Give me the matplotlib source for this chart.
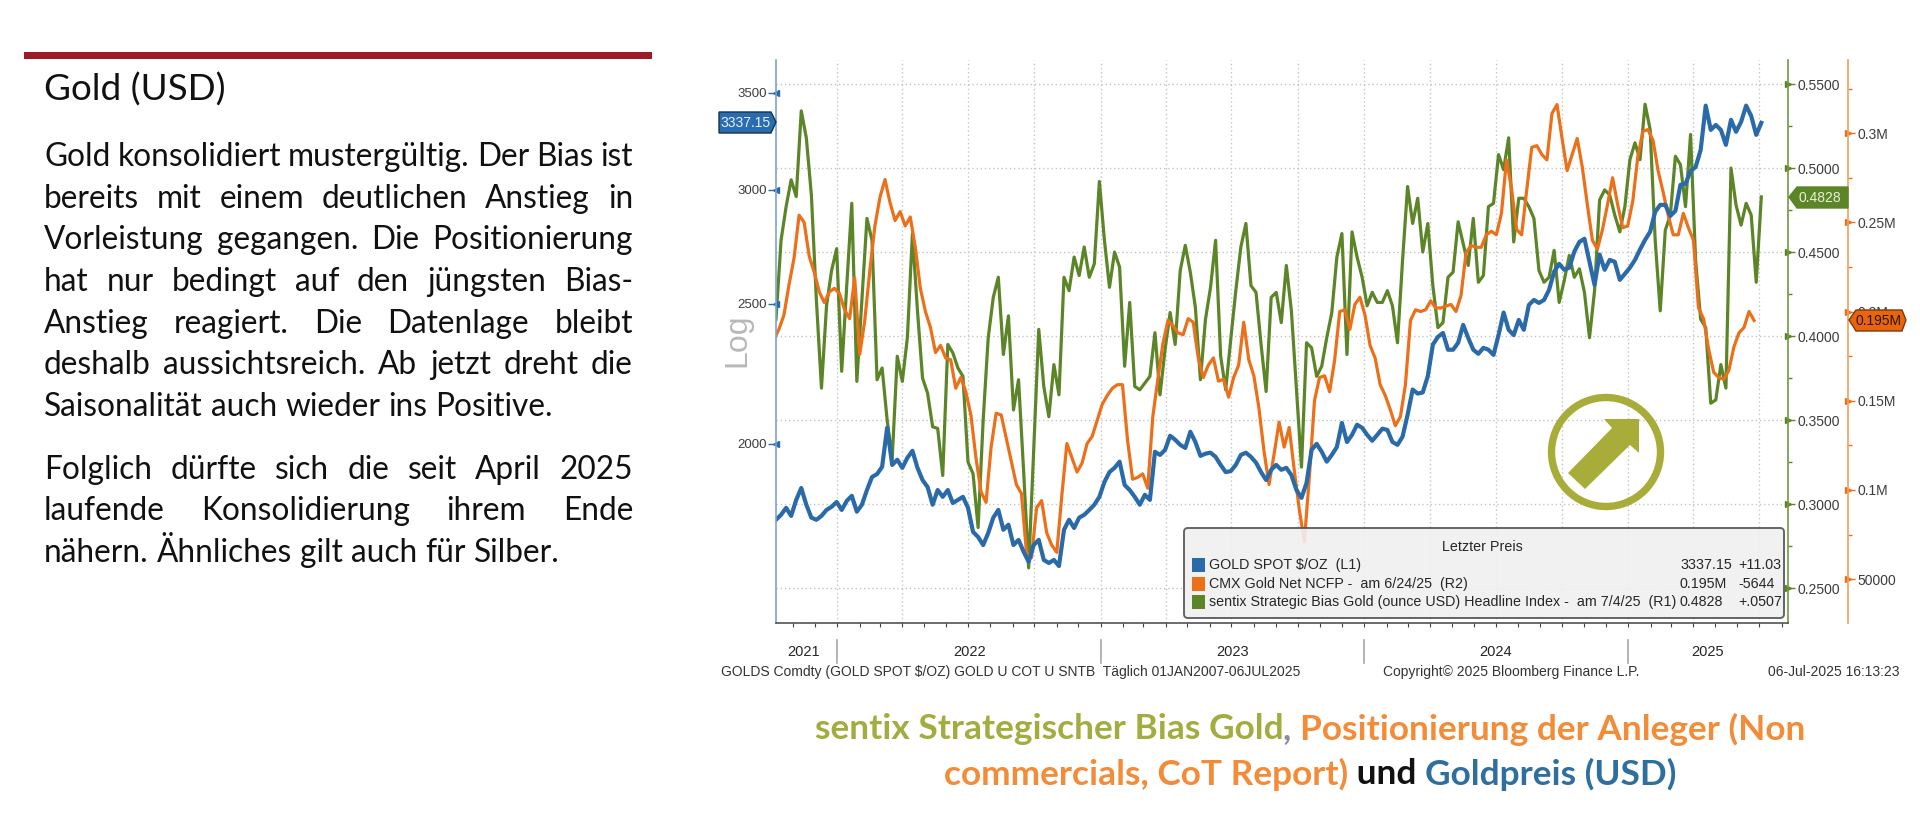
import matplotlib
matplotlib.use('Agg')
import matplotlib.pyplot as plt
import matplotlib.dates as mdates
import pandas as pd
from matplotlib.patches import Circle, FancyBboxPatch, Polygon, Rectangle
from matplotlib.ticker import FixedLocator, FuncFormatter
from matplotlib.transforms import blended_transform_factory

# gold spot, USD/oz, weekly readings
gold = [1772, 1786, 1806, 1783, 1829, 1864, 1815, 1778, 1772, 1783, 1800, 1809, 1823, 1800, 1826, 1841, 1795, 1815, 1858, 1897,
        1906, 1928, 2052, 1934, 1950, 1925, 1956, 1978, 1925, 1888, 1867, 1815, 1858, 1838, 1858, 1820, 1829, 1838, 1806, 1738,
        1724, 1702, 1735, 1778, 1800, 1744, 1758, 1702, 1716, 1684, 1657, 1702, 1716, 1662, 1654, 1662, 1646, 1744, 1772, 1749,
        1778, 1786, 1800, 1815, 1838, 1882, 1912, 1925, 1944, 1873, 1858, 1838, 1815, 1844, 1829, 1975, 1965, 1981, 2026, 2013,
        1997, 1987, 2039, 2006, 1962, 1969, 1972, 1959, 1934, 1912, 1915, 1934, 1965, 1972, 1959, 1941, 1912, 1888, 1919, 1934,
        1919, 1925, 1903, 1858, 1835, 1879, 1981, 2000, 1975, 1944, 1965, 1990, 2068, 2006, 2029, 2062, 2052, 2029, 2010, 2029,
        2049, 2045, 2006, 1997, 2023, 2095, 2181, 2167, 2171, 2228, 2343, 2372, 2387, 2324, 2324, 2350, 2418, 2368, 2324, 2309,
        2331, 2324, 2305, 2379, 2466, 2399, 2379, 2437, 2399, 2496, 2516, 2504, 2516, 2557, 2632, 2665, 2640, 2649, 2718, 2760,
        2774, 2674, 2577, 2705, 2640, 2682, 2674, 2598, 2623, 2649, 2682, 2727, 2769, 2805, 2896, 2928, 2928, 2877, 2900, 3023,
        3028, 3090, 3110, 3196, 3430, 3300, 3326, 3300, 3222, 3353, 3290, 3342, 3430, 3374, 3274, 3337.15]

# CMX gold net non-commercial positions, thousands of contracts
ncfp = [184, 190, 198, 215, 230, 254, 250, 231, 222, 211, 205, 211, 213, 210, 201, 196, 219, 176, 195, 223,
        248, 264, 274, 261, 251, 256, 248, 253, 236, 213, 200, 191, 177, 181, 174, 173, 157, 163, 155, 142,
        118, 99, 93, 124, 143, 142, 129, 116, 103, 98, 65, 62, 90, 94, 76, 69, 65, 97, 126, 118,
        110, 115, 126, 130, 139, 148, 153, 157, 159, 159, 128, 106, 107, 109, 101, 141, 162, 182, 195, 192,
        188, 187, 196, 194, 174, 163, 170, 174, 161, 162, 152, 163, 170, 194, 173, 164, 146, 122, 103, 120,
        138, 124, 135, 111, 89, 71, 108, 150, 163, 164, 155, 173, 200, 201, 190, 204, 208, 198, 181, 174,
        159, 153, 145, 136, 141, 159, 195, 201, 200, 201, 206, 202, 202, 203, 204, 200, 209, 233, 237, 236,
        236, 243, 245, 243, 255, 285, 269, 246, 243, 268, 292, 293, 288, 285, 311, 316, 297, 279, 288, 297,
        281, 260, 240, 235, 246, 260, 275, 260, 247, 248, 262, 287, 301, 302, 296, 279, 267, 254, 243, 243,
        255, 247, 240, 202, 196, 179, 166, 163, 162, 167, 180, 188, 191, 200, 195]

# sentix strategic bias gold, headline index
bias = [.410, .457, .477, .493, .483, .534, .518, .484, .421, .369, .418, .439, .452, .379, .430, .479, .373, .421, .470, .457,
        .374, .381, .350, .327, .388, .373, .399, .461, .415, .375, .366, .346, .345, .317, .395, .390, .381, .376, .325, .318,
        .286, .350, .399, .423, .435, .389, .412, .356, .374, .320, .262, .332, .404, .370, .352, .383, .365, .435, .427, .447,
        .436, .453, .435, .443, .492, .457, .429, .450, .441, .382, .420, .370, .368, .372, .376, .402, .365, .392, .414, .395,
        .439, .454, .438, .417, .374, .410, .429, .457, .388, .368, .398, .427, .453, .467, .430, .426, .395, .367, .423, .426,
        .408, .442, .415, .368, .322, .396, .393, .376, .382, .399, .414, .447, .461, .389, .462, .447, .435, .418, .426, .420,
        .420, .427, .418, .396, .445, .489, .467, .482, .450, .467, .430, .405, .408, .435, .438, .468, .455, .442, .470, .432,
        .436, .477, .479, .508, .499, .518, .456, .482, .482, .477, .470, .439, .432, .435, .451, .420, .433, .448, .435, .440,
        .426, .399, .427, .481, .487, .484, .472, .462, .477, .505, .515, .505, .538, .523, .457, .415, .463, .472, .507, .502,
        .477, .520, .445, .410, .405, .360, .362, .383, .369, .500, .478, .466, .479, .472, .432, .4828]

gold_ticks = [2000, 2500, 3000, 3500]
bias_ticks = [.25, .30, .35, .40, .45, .50, .55]
ncfp_ticks = [50, 100, 150, 200, 250, 300]
ncfp_labels = ['50000', '0.1M', '0.15M', '0.2M', '0.25M', '0.3M']
years = [(2021.87, '2021'), (2022.5, '2022'), (2023.5, '2023'), (2024.5, '2024'), (2025.3, '2025')]

title = 'Gold (USD)'
body = [
    ('Gold konsolidiert mustergültig. Der Bias ist', 157, True),
    ('bereits mit einem deutlichen Anstieg in', 199, True),
    ('Vorleistung gegangen. Die Positionierung', 240, True),
    ('hat nur bedingt auf den jüngsten Bias-', 282, True),
    ('Anstieg reagiert. Die Datenlage bleibt', 324, True),
    ('deshalb aussichtsreich. Ab jetzt dreht die', 365, True),
    ('Saisonalität auch wieder ins Positive.', 407, False),
    ('Folglich dürfte sich die seit April 2025', 470, True),
    ('laufende Konsolidierung ihrem Ende', 511, True),
    ('nähern. Ähnliches gilt auch für Silber.', 553, False),
]

OLIVE = '#a3ad3f'
GREEN = '#5b8527'
ORANGE = '#ec6f1a'
BLUE = '#2a6aa8'
NARROW = ['Liberation Sans', 'DejaVu Sans']
TICK_TXT = '#3c3c3c'

W, H = 1920, 817
fig = plt.figure(figsize=(W / 100, H / 100), dpi=100, facecolor='white')
L, R, T, B = 776, 1788, 60, 623
ax = fig.add_axes([L / W, (H - B) / H, (R - L) / W, (B - T) / H])
ax_b = ax.twinx()
ax_n = ax.twinx()
ax.set_zorder(3)
ax_n.set_zorder(2)
ax_b.set_zorder(1)
ax.patch.set_visible(False)
ax_n.patch.set_visible(False)

gold_dates = pd.date_range(end='2025-07-04', periods=len(gold), freq='7D')
bias_dates = pd.date_range(end='2025-07-04', periods=len(bias), freq='7D')
ncfp_dates = pd.date_range(end='2025-06-24', periods=len(ncfp), freq='7D')

ax_b.plot(bias_dates, bias, color=GREEN, lw=2.3, solid_joinstyle='round')
ax_n.plot(ncfp_dates, ncfp, color=ORANGE, lw=2.3, solid_joinstyle='round')
ax.plot(gold_dates, gold, color=BLUE, lw=3, solid_joinstyle='round')

ax.set_yscale('log')
ax.set_ylim(1503, 3689)
ax_b.set_ylim(.2292, .5643)
ax_n.set_ylim(25.4, 341)
ax.set_xlim(pd.Timestamp('2021-10-08'), pd.Timestamp('2025-08-10'))

# x axis: monthly ticks, dotted quarter grid
ax.xaxis.set_major_locator(mdates.MonthLocator())
ax.xaxis.set_major_formatter(plt.NullFormatter())
ax.tick_params(axis='x', length=3, width=.8, color='#444444')
GRID = dict(color='#c4c4c4', ls=(0, (1, 2)), lw=1)
ax_b.yaxis.grid(True, **GRID)
for q in pd.date_range('2022-01-01', '2025-07-01', freq='QS'):
    ax_b.axvline(q, zorder=0, **GRID)
ax_b.set_axisbelow(True)

for a in (ax, ax_b, ax_n):
    for s in a.spines.values():
        s.set_visible(False)
ax.spines['left'].set_visible(True)
ax.spines['left'].set_color('#7aa3d6')
ax.spines['left'].set_linewidth(1.2)
ax.spines['bottom'].set_visible(True)
ax.spines['bottom'].set_color('#444444')
ax.spines['bottom'].set_linewidth(1.1)
ax_b.spines['right'].set_visible(True)
ax_b.spines['right'].set_color('#6f9a45')
ax_b.spines['right'].set_linewidth(1.2)
ax_n.spines['right'].set_visible(True)
ax_n.spines['right'].set_position(('outward', 43.2))
ax_n.spines['right'].set_color('#f0a060')
ax_n.spines['right'].set_linewidth(1.2)

# y axes
ax.yaxis.set_major_locator(FixedLocator(gold_ticks))
ax.yaxis.set_minor_locator(FixedLocator([]))
ax.yaxis.set_major_formatter(FuncFormatter(lambda v, p: f'{v:.0f}'))
ax.tick_params(axis='y', which='major', length=5.5, width=1, color=BLUE, labelcolor=TICK_TXT, labelsize=9.5, pad=1)
ax_b.yaxis.set_major_locator(FixedLocator(bias_ticks))
ax_b.yaxis.set_minor_locator(FixedLocator([.275, .325, .375, .425, .475, .525]))
ax_b.yaxis.set_major_formatter(FuncFormatter(lambda v, p: f'{v:.4f}'))
ax_b.tick_params(axis='y', which='major', length=5, width=1, color=GREEN, labelcolor=TICK_TXT, labelsize=10, pad=2)
ax_b.tick_params(axis='y', which='minor', length=3, width=1, color=GREEN)
ax_n.yaxis.set_major_locator(FixedLocator(ncfp_ticks))
ax_n.yaxis.set_major_formatter(FuncFormatter(lambda v, p: ncfp_labels[p] if p < len(ncfp_labels) else ''))
ax_n.yaxis.set_minor_locator(FixedLocator([75, 125, 175, 225, 275, 325]))
ax_n.tick_params(axis='y', which='major', length=5, width=1, color=ORANGE, labelcolor=TICK_TXT, labelsize=10, pad=2)
ax_n.tick_params(axis='y', which='minor', length=3, width=1, color=ORANGE)
for a in (ax, ax_b, ax_n):
    for lab in a.get_yticklabels():
        lab.set_family(NARROW)

# triangles on the value ticks
ax.plot([0] * len(gold_ticks), gold_ticks, ls='', marker='<', ms=5, color=BLUE,
        transform=ax.get_yaxis_transform(), clip_on=False)
ax_b.plot([1] * len(bias_ticks), bias_ticks, ls='', marker='>', ms=5, color=GREEN,
          transform=ax_b.get_yaxis_transform(), clip_on=False)
ax_n.plot([1.0593] * len(ncfp_ticks), ncfp_ticks, ls='', marker='>', ms=5, color=ORANGE,
          transform=ax_n.get_yaxis_transform(), clip_on=False)

# everything else sits on a pixel canvas over the whole figure
over = fig.add_axes([0, 0, 1, 1], zorder=10)
over.set_xlim(0, W)
over.set_ylim(H, 0)
over.axis('off')
over.patch.set_visible(False)
rend = fig.canvas.get_renderer()


def text_w(s, **kw):
    t = over.text(0, 0, s, **kw)
    w = t.get_window_extent(rend).width
    t.remove()
    return w


def justified(line, y, fit, size=22.8):
    kw = dict(family='Lato', fontsize=size, color='#111111')
    words = line.split()
    x0, x1 = 44, 633
    widths = [text_w(w, **kw) for w in words]
    if fit:
        gap = (x1 - x0 - sum(widths)) / (len(words) - 1)
    else:
        gap = text_w('a b', **kw) - text_w('ab', **kw)
    x = x0
    for w, wd in zip(words, widths):
        over.text(x, y, w, va='center', ha='left', **kw)
        x += wd + gap


def runs(parts, cx, y, size=25.4):
    kw = dict(family='Lato', fontweight='bold', fontsize=size)
    widths = [text_w(s.replace(' ', '\u00a0'), **kw) for s, c in parts]
    x = cx - sum(widths) / 2
    for (s, c), wd in zip(parts, widths):
        over.text(x, y, s.replace(' ', '\u00a0'), color=c, va='center', ha='left', **kw)
        x += wd


def badge(pts, face, edge, label, cx, cy, tc):
    over.add_patch(Polygon(pts, closed=True, fc=face, ec=edge, lw=1, zorder=6))
    over.text(cx, cy, label, color=tc, family=NARROW, fontsize=10, ha='center', va='center', zorder=7)


# left text block
over.add_patch(Rectangle((24, 52), 628, 7, fc='#9b1c24', ec='none'))
over.text(44, 90, title, family='Lato', fontsize=26.6, color='#111111', va='center', ha='left')
for line, y, fit in body:
    justified(line, y, fit)

# caption
runs([('sentix Strategischer Bias Gold', OLIVE), (', ', '#8a8f99'), ('Positionierung der Anleger (Non', '#f28c38')], 1310, 729)
runs([('commercials, CoT Report)', '#f28c38'), (' und ', '#111111'), ('Goldpreis (USD)', '#2e6f9e')], 1310, 774)

over.text(737, 340, 'Log', rotation=90, color='#b8b8b8', fontsize=23, family='Liberation Sans', ha='center', va='center')

# value badges
badge([(719, 112), (771, 112), (776, 122), (771, 133), (719, 133)], '#2a6cb0', '#16324f', '3337.15', 745, 123, '#e6f0fa')
badge([(1789, 197), (1797, 187), (1848, 187), (1848, 208), (1797, 208)], GREEN, GREEN, '0.4828', 1820, 198, '#e8f0d8')
badge([(1849, 320), (1856, 310), (1902, 310), (1906, 320), (1902, 331), (1856, 331)], '#e8650e', '#7a3a10', '0.195M', 1879, 321, '#2b1505')

# trend arrow icon
over.add_patch(Circle((1606, 452), 54.5, fc='none', ec='#a8ad3a', lw=5.3))
over.add_patch(Polygon([(1568, 473), (1612, 428), (1604, 419), (1639, 419), (1639, 453), (1630, 445), (1585, 489)],
                       closed=True, fc='#a8ad3a', ec='none'))

# legend box, see-through so the grid and the orange spike show
over.add_patch(FancyBboxPatch((1187, 531), 594, 84, boxstyle='round,pad=3,rounding_size=4',
                              fc='#f0f0f0', ec='#555555', lw=1.4, alpha=.9))
LEG = dict(family=NARROW, fontsize=10.3, color='#262626', va='center')
over.text(1482, 547, 'Letzter Preis', ha='center', **LEG)
rows = [(565, BLUE, 'GOLD SPOT $/OZ  (L1)', '3337.15', '+11.03'),
        (584, ORANGE, 'CMX Gold Net NCFP -  am 6/24/25  (R2)', '0.195M', '-5644'),
        (602, GREEN, 'sentix Strategic Bias Gold (ounce USD) Headline Index -  am 7/4/25  (R1)', '0.4828', '+.0507')]
for y, c, name, last, chg in rows:
    over.add_patch(Rectangle((1192, y - 7), 13, 14, fc=c, ec='none'))
    over.text(1209, y, name, ha='left', **LEG)
    over.text(1680, y, last, ha='left', **LEG)
    over.text(1738, y, chg, ha='left', **LEG)

# year band and footer under the axis
trans = blended_transform_factory(ax.transData, over.transData)
for yr in [2022, 2023, 2024, 2025]:
    d = mdates.date2num(pd.Timestamp(f'{yr}-01-01'))
    over.plot([d, d], [640, 663], color='#a8a8a8', lw=1.2, transform=trans, clip_on=False, scalex=False, scaley=False)
for yd, lab in years:
    d = mdates.date2num(pd.Timestamp(int(yd), 1, 1) + pd.Timedelta(days=(yd - int(yd)) * 365))
    over.text(d, 652, lab, transform=trans, ha='center', va='center', family=NARROW, fontsize=10.5, color='#262626')
FOOT = dict(family=NARROW, fontsize=10, color='#333333', va='center')
over.text(721, 672, 'GOLDS Comdty (GOLD SPOT $/OZ) GOLD U COT U SNTB  Täglich 01JAN2007-06JUL2025', ha='left', **FOOT)
over.text(1383, 672, 'Copyright© 2025 Bloomberg Finance L.P.', ha='left', **FOOT)
over.text(1900, 672, '06-Jul-2025 16:13:23', ha='right', **FOOT)

fig.savefig('out.png', dpi=100, facecolor='white')
